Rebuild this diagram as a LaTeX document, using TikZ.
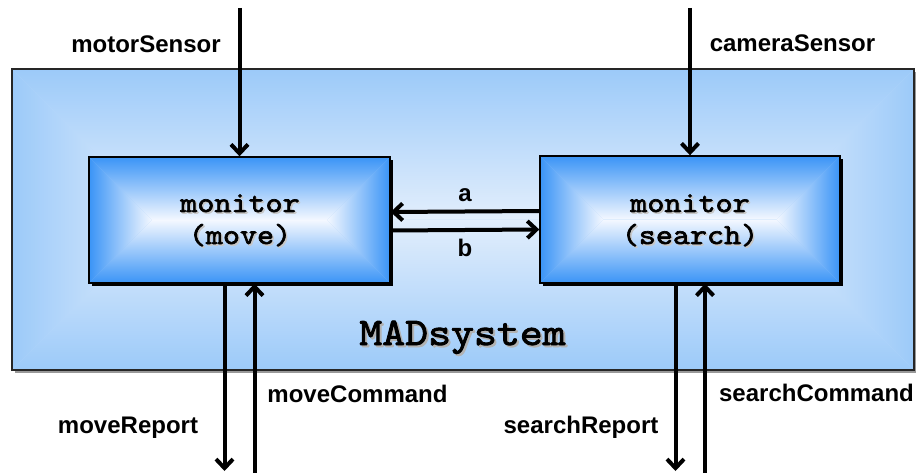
\documentclass[tikz,border=0pt]{standalone}
\usepackage{fontspec}
\setmainfont{Liberation Sans}
\newfontfamily\courfont{lmmono10-regular.otf}[FakeBold=2.2,FakeStretch=1.12]
\usetikzlibrary{arrows.meta}
\definecolor{boxedge}{HTML}{3A94F6}
\definecolor{boxmid}{HTML}{F4F8FF}
\definecolor{outedge}{HTML}{9CCAF9}
\definecolor{outmid}{HTML}{E2EEFC}
% rectangular gradient: x1 y1 x2 y2 outer inner
\newcommand\rectgrad[6]{%
  \pgfmathsetmacro\hh{(#4-#2)/2}%
  \pgfmathsetmacro\cy{#2+\hh}%
  \pgfmathsetmacro\xa{#1+\hh}%
  \pgfmathsetmacro\xb{#3-\hh}%
  \fill[#5!50!#6] (#1,#2) rectangle (#3,#4);
  \shade[top color=#5, bottom color=#6] (#1,#2) -- (#3,#2) -- (\xb,\cy) -- (\xa,\cy) -- cycle;
  \shade[top color=#6, bottom color=#5] (\xa,\cy) -- (\xb,\cy) -- (#3,#4) -- (#1,#4) -- cycle;
  \shade[left color=#5, right color=#6] (#1,#2) -- (\xa,\cy) -- (#1,#4) -- cycle;
  \shade[left color=#6, right color=#5] (#3,#2) -- (\xb,\cy) -- (#3,#4) -- cycle;
}
\tikzset{
  arr/.style={line width=4pt, -{Straight Barb[length=9pt,width=17pt,line width=4pt]}},
  lbl/.style={font=\fontsize{24}{28}\selectfont\bfseries, inner sep=0pt, anchor=base},
  mono/.style={font=\courfont\fontsize{29}{32}\selectfont, inner sep=0pt, anchor=base},
  monosh/.style={mono, text=black!22},
  boxn/.style={draw=black, line width=1.4pt, minimum width=301pt, minimum height=126pt, inner sep=0pt},
}
\begin{document}
\begin{tikzpicture}[x=1pt,y=-1pt]
\useasboundingbox (0,0) rectangle (916,473);
% outer system box
\fill[black!40] (15,72) rectangle (917,373);
\rectgrad{12}{69}{914}{370}{outedge}{outmid}
\node[draw=black!85, line width=1.4pt, minimum width=902pt, minimum height=301pt, inner sep=0pt] (sys) at (463,219.5) {};
\node[font=\courfont\fontsize{39}{44}\selectfont, inner sep=0pt, anchor=base, text=black!30] (sysh) at (464.5,347) {MADsystem};
\node[font=\courfont\fontsize{39}{44}\selectfont, inner sep=0pt, anchor=base] (syst) at (462.5,345) {MADsystem};
% left box
\fill[black] (92,160) rectangle (393,286);
\rectgrad{89}{157}{390}{283}{boxedge}{boxmid}
\node[boxn] (mv) at (239.5,220) {};
% right box
\fill[black] (543,159) rectangle (843,286);
\rectgrad{540}{156}{840}{283}{boxedge}{boxmid}
\node[boxn, minimum width=300pt, minimum height=127pt] (sr) at (690,219.5) {};
% box texts
\node[monosh] (m1s) at (241.5,213.5) {monitor};
\node[monosh] (m2s) at (241.5,245.5) {(move)};
\node[mono] (m1) at (240,212) {monitor};
\node[mono] (m2) at (240,244) {(move)};
\node[monosh] (s1s) at (691.5,213.5) {monitor};
\node[monosh] (s2s) at (691.5,245.5) {(search)};
\node[mono] (s1) at (690,212) {monitor};
\node[mono] (s2) at (690,244) {(search)};
% free ends
\coordinate (ms) at (239.5,8);
\coordinate (cs) at (690,8);
\coordinate (mr) at (224.5,471);
\coordinate (mc) at (254.5,473);
\coordinate (srp) at (675.5,471);
\coordinate (sc) at (705,473);
% arrows
\draw[arr] (ms) -- (mv.north);
\draw[arr] (cs) -- (sr.north);
\draw[arr] ([yshift=8.5pt]sr.west) -- ([yshift=8pt]mv.east);
\draw[arr] ([yshift=-10.5pt]mv.east) -- ([yshift=-10pt]sr.west);
\draw[arr] (mv.south -| mr) -- (mr);
\draw[arr] (mc) -- (mv.south -| mc);
\draw[arr] (sr.south -| srp) -- (srp);
\draw[arr] (sc) -- (sr.south -| sc);
% labels
\node[lbl] (lms) at (146,53) {motorSensor};
\node[lbl] (lcs) at (792.5,52) {cameraSensor};
\node[lbl] (la) at (465,202) {a};
\node[lbl] (lb) at (465,257) {b};
\node[lbl] (lmr) at (128,433) {moveReport};
\node[lbl] (lmc) at (357.5,402) {moveCommand};
\node[lbl] (lsr) at (581,433) {searchReport};
\node[lbl] (lsc) at (816.5,401) {searchCommand};
\end{tikzpicture}
\end{document}
